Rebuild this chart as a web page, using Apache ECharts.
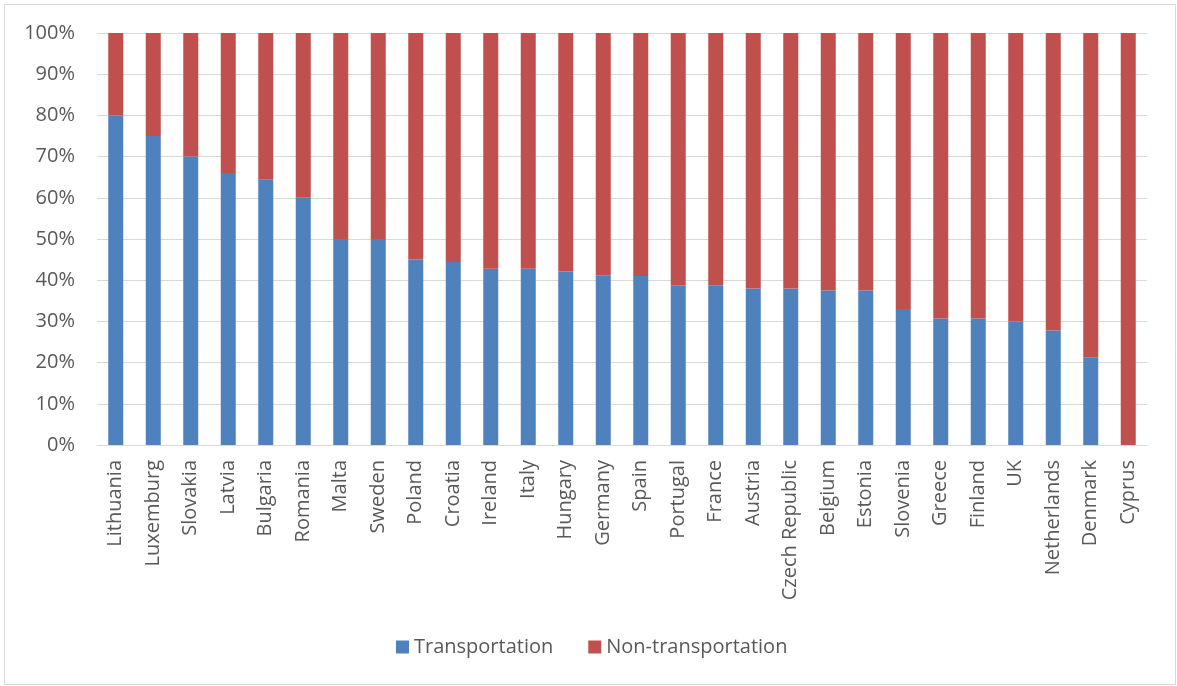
<!DOCTYPE html>
<html>
<head>
<meta charset="utf-8">
<title>Transportation vs non-transportation share by country</title>
<script src="https://cdn.jsdelivr.net/npm/echarts@6/dist/echarts.min.js"></script>
<style>
  html, body { margin: 0; padding: 0; background: #ffffff; }
  #chart { width: 1177px; height: 686px; }
</style>
</head>
<body>
<div id="chart"></div>
<script>
// Countries, ordered by transportation share (descending)
const countries = [
  'Lithuania', 'Luxemburg', 'Slovakia', 'Latvia', 'Bulgaria', 'Romania', 'Malta',
  'Sweden', 'Poland', 'Croatia', 'Ireland', 'Italy', 'Hungary', 'Germany', 'Spain',
  'Portugal', 'France', 'Austria', 'Czech Republic', 'Belgium', 'Estonia', 'Slovenia',
  'Greece', 'Finland', 'UK', 'Netherlands', 'Denmark', 'Cyprus'
];

// Share of transportation (%)
const transportation = [
  80, 75, 70, 66, 64.4, 60, 50,
  50, 45, 44.4, 42.8, 42.8, 42.1, 41.2, 41.0,
  38.8, 38.8, 38.0, 38.0, 37.5, 37.5, 33.0,
  30.7, 30.7, 30.0, 27.8, 21.3, 0
];

// Share of non-transportation (%)
const nonTransportation = [
  20, 25, 30, 34, 35.6, 40, 50,
  50, 55, 55.6, 57.2, 57.2, 57.9, 58.8, 59.0,
  61.2, 61.2, 62.0, 62.0, 62.5, 62.5, 67.0,
  69.3, 69.3, 70.0, 72.2, 78.7, 100
];

const seriesNames = ['Transportation', 'Non-transportation'];
const yTicks = { min: 0, max: 100, interval: 10 };

const textColor = '#595959';
const gridColor = '#D9D9D9';
const fontFamily = '"Open Sans", "Noto Sans", sans-serif';

const chart = echarts.init(document.getElementById('chart'), null, { renderer: 'canvas' });

chart.setOption({
  animation: false,
  backgroundColor: '#ffffff',
  textStyle: { fontFamily: fontFamily, color: textColor },
  graphic: [{
    type: 'rect',
    shape: { x: 4.5, y: 4.5, width: 1171, height: 680 },
    style: { fill: 'none', stroke: gridColor, lineWidth: 1 },
    silent: true,
    z: -1
  }],
  grid: {
    left: 97,
    right: 30,
    top: 33,
    height: 412
  },
  legend: {
    data: seriesNames,
    left: 391,
    top: 632,
    icon: 'rect',
    itemWidth: 13,
    itemHeight: 13,
    itemGap: 35,
    textStyle: { fontFamily: fontFamily, fontSize: 20, color: textColor, padding: [0, 0, 0, 0] }
  },
  xAxis: {
    type: 'category',
    data: countries,
    axisLine: { lineStyle: { color: gridColor, width: 1 } },
    axisTick: { show: false },
    axisLabel: {
      rotate: 90,
      interval: 0,
      margin: 15,
      fontFamily: fontFamily,
      fontSize: 20,
      color: textColor
    }
  },
  yAxis: {
    type: 'value',
    min: yTicks.min,
    max: yTicks.max,
    interval: yTicks.interval,
    axisLine: { show: false },
    axisTick: { show: false },
    splitLine: { lineStyle: { color: gridColor, width: 1 } },
    axisLabel: {
      formatter: '{value}%',
      margin: 22,
      fontFamily: fontFamily,
      fontSize: 20,
      color: textColor
    }
  },
  series: [
    {
      name: seriesNames[0],
      type: 'bar',
      stack: 'share',
      barWidth: '40%',
      data: transportation,
      itemStyle: { color: '#4F81BD' }
    },
    {
      name: seriesNames[1],
      type: 'bar',
      stack: 'share',
      barWidth: '40%',
      data: nonTransportation,
      itemStyle: { color: '#C0504D' }
    }
  ]
});
</script>
</body>
</html>
